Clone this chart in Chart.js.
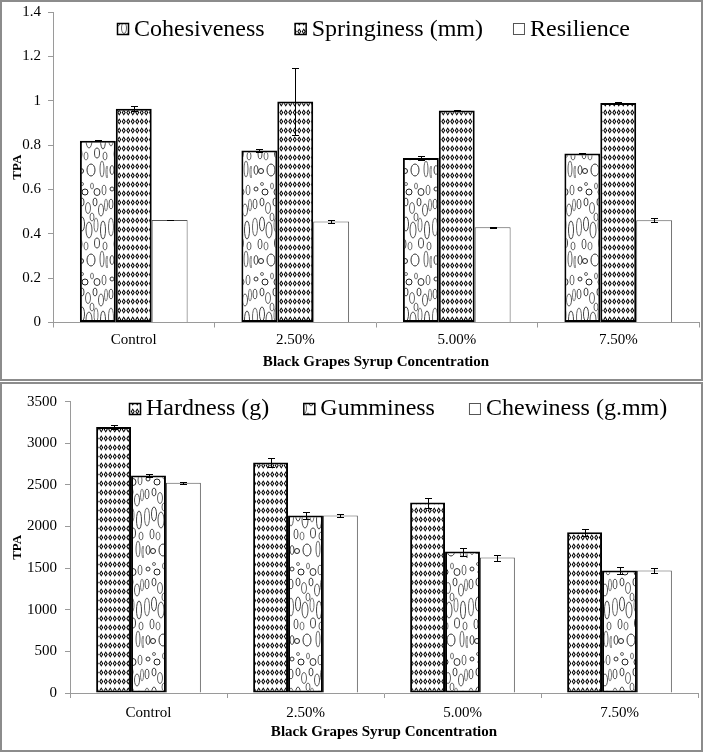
<!DOCTYPE html>
<html><head><meta charset="utf-8">
<script src="https://cdn.jsdelivr.net/npm/chart.js@4.4.1/dist/chart.umd.min.js"></script>
<style>
html,body{margin:0;padding:0;background:#fff;}
#wrap{position:relative;width:708px;height:756px;overflow:hidden;background:#fff;}
canvas{position:absolute;left:0;}
#c1{top:0;} #c2{top:380px;}
.panel{position:absolute;left:0;box-sizing:border-box;border:2px solid #8c8c8c;pointer-events:none;}
#p1{top:0;width:703px;height:381px;}
#p2{top:382px;width:703px;height:370px;}
</style></head>
<body><div id="wrap">
<canvas id="c1" width="708" height="380"></canvas>
<canvas id="c2" width="708" height="376"></canvas>
<div class="panel" id="p1"></div><div class="panel" id="p2"></div>
</div>
<script>
// ---------- DATA ----------
const categories = ['Control', '2.50%', '5.00%', '7.50%'];

const cohesiveness    = [0.820, 0.775, 0.742, 0.762];
const cohesivenessErr = [0.002, 0.007, 0.009, 0.004];
const springiness     = [0.964, 0.997, 0.956, 0.990];
const springinessErr  = [0.010, 0.152, 0.003, 0.005];
const resilience      = [0.462, 0.455, 0.429, 0.461];
const resilienceErr   = [0.002, 0.006, 0.003, 0.008];

const hardness     = [3195, 2768, 2288, 1930];
const hardnessErr  = [26, 58, 60, 44];
const gumminess    = [2612, 2134, 1700, 1472];
const gumminessErr = [20, 42, 48, 40];
const chewiness    = [2525, 2132, 1627, 1471];
const chewinessErr = [8, 22, 36, 32];

const topTicks = [0, 0.2, 0.4, 0.6, 0.8, 1, 1.2, 1.4];
const topTickLabels = ['0', '0.2', '0.4', '0.6', '0.8', '1', '1.2', '1.4'];
const bottomTicks = [0, 500, 1000, 1500, 2000, 2500, 3000, 3500];
const bottomTickLabels = ['0', '500', '1000', '1500', '2000', '2500', '3000', '3500'];

const xTitle = 'Black Grapes Syrup Concentration';
const yTitle = 'TPA';

// ---------- STYLE HELPERS ----------
const serif = "'Liberation Serif','Times New Roman',serif";

function makeDiamondPattern() {
  const t = document.createElement('canvas');
  t.width = 9; t.height = 9;
  const c = t.getContext('2d');
  c.fillStyle = '#fff'; c.fillRect(0, 0, 9, 9);
  [2.25, 6.75].forEach(cx => {
    const cy = 4.5;
    c.fillStyle = '#000';
    c.beginPath();
    c.moveTo(cx, cy - 3.2); c.lineTo(cx + 2.0, cy); c.lineTo(cx, cy + 3.2); c.lineTo(cx - 2.0, cy); c.closePath();
    c.fill();
    c.fillStyle = '#fff';
    c.beginPath();
    c.moveTo(cx, cy - 1.6); c.lineTo(cx + 0.8, cy); c.lineTo(cx, cy + 1.6); c.lineTo(cx - 0.8, cy); c.closePath();
    c.fill();
  });
  return c.createPattern(t, 'repeat');
}

function makeBubblePattern() {
  const t = document.createElement('canvas');
  t.width = 36; t.height = 90;
  const c = t.getContext('2d');
  c.fillStyle = '#fff'; c.fillRect(0, 0, 36, 90);
  const shapes = [
    [4, 9, 2, 2, '#333'], [10, 4, 1.5, 1.5, '#666'], [13, 12, 3, 3, '#222'],
    [20, 6, 1.5, 3, '#777'], [25, 12, 3, 3.5, '#333'], [32, 10, 2, 5, '#666'],
    [3, 24, 2, 5, '#555'], [10, 22, 2, 4, '#444'], [16, 28, 2.5, 5.5, '#666'],
    [23, 22, 2, 4, '#444'], [29, 30, 2.5, 6, '#555'], [34, 25, 1.5, 6, '#777'],
    [3, 47, 2.5, 9, '#666'], [10, 44, 2.5, 7, '#444'], [17, 50, 3, 8, '#555'],
    [24, 45, 2, 7, '#777'], [31, 50, 2.5, 9, '#444'], [20, 37, 2, 4, '#666'],
    [8, 64, 2, 5, '#555'], [14, 66, 2, 4, '#777'], [25, 63, 2.5, 5, '#444'], [33, 66, 2, 4, '#666'],
    [4, 80, 2, 4.5, '#444'], [9, 81, 2.5, 2.5, '#222'], [19, 80, 4, 6, '#333'],
    [30, 79, 2, 8, '#666'], [35, 82, 1, 6, '#777']
  ];
  c.lineWidth = 1;
  shapes.forEach(([x, y, rx, ry, col]) => {
    c.strokeStyle = col;
    c.beginPath(); c.ellipse(x, y, rx, ry, 0, 0, Math.PI * 2); c.stroke();
  });
  return c.createPattern(t, 'repeat');
}

const diamonds = makeDiamondPattern();
const bubbles = makeBubblePattern();

// ---------- PLUGINS ----------
const errorBarPlugin = {
  id: 'errorBars',
  afterDatasetsDraw(chart) {
    const ctx = chart.ctx, ys = chart.scales.y;
    chart.data.datasets.forEach((ds, i) => {
      if (!ds.errors) return;
      const meta = chart.getDatasetMeta(i);
      meta.data.forEach((bar, j) => {
        const v = ds.data[j], e = ds.errors[j];
        const yT = Math.round(ys.getPixelForValue(v + e)) + 0.5;
        const yB = Math.round(ys.getPixelForValue(v - e)) + 0.5;
        const x = Math.round(bar.x) + 0.5;
        ctx.save();
        ctx.strokeStyle = '#000'; ctx.lineWidth = 1;
        ctx.beginPath();
        ctx.moveTo(x, yT); ctx.lineTo(x, yB);
        ctx.moveTo(x - 3.5, yT); ctx.lineTo(x + 3.5, yT);
        ctx.moveTo(x - 3.5, yB); ctx.lineTo(x + 3.5, yB);
        ctx.stroke();
        ctx.restore();
      });
    });
  }
};

const legendPlugin = {
  id: 'customLegend',
  afterDraw(chart, args, o) {
    const ctx = chart.ctx;
    ctx.save();
    ctx.font = o.font;
    ctx.textBaseline = 'alphabetic';
    const items = chart.data.datasets.map(d => ({
      label: d.label, fill: d.backgroundColor, stroke: d.borderColor, lw: d.borderWidth,
      w: ctx.measureText(d.label).width
    }));
    const total = items.reduce((a, it) => a + o.box + o.gap + it.w, 0) + o.itemGap * (items.length - 1);
    let x = Math.round(o.cx - total / 2);
    items.forEach(it => {
      const bx = x, by = Math.round(o.boxCy - o.box / 2);
      ctx.fillStyle = it.fill;
      ctx.fillRect(bx, by, o.box, o.box);
      ctx.strokeStyle = it.stroke; ctx.lineWidth = it.lw > 1 ? 1.5 : 1;
      ctx.strokeRect(bx + 0.5, by + 0.5, o.box - 1, o.box - 1);
      ctx.fillStyle = '#000';
      ctx.fillText(it.label, bx + o.box + o.gap, o.baseline);
      x += o.box + o.gap + it.w + o.itemGap;
    });
    ctx.restore();
  }
};

// ---------- CHART BUILDER ----------
function buildChart(id, opts) {
  const canvas = document.getElementById(id);
  return new Chart(canvas, {
    type: 'bar',
    data: { labels: categories, datasets: opts.datasets },
    options: {
      responsive: false,
      maintainAspectRatio: false,
      animation: false,
      devicePixelRatio: 1,
      layout: { padding: { left: 0, right: opts.padRight, top: opts.padTop, bottom: 0 } },
      datasets: { bar: { categoryPercentage: 0.667, barPercentage: 1.0 } },
      plugins: {
        legend: { display: false },
        tooltip: { enabled: false },
        customLegend: opts.legend
      },
      scales: {
        x: {
          afterFit: s => { s.height = opts.xHeight; },
          ticks: { font: { family: serif, size: 15 }, color: '#000', padding: opts.xTickPad },
          grid: { drawOnChartArea: false, drawTicks: true, tickLength: 5, color: '#9a9a9a', offset: true },
          border: { display: true, color: '#9a9a9a', width: 1 },
          title: { display: true, text: xTitle, color: '#000',
                   font: { family: serif, size: 15, weight: 'bold' }, padding: { top: 0, bottom: opts.xTitlePad } }
        },
        y: {
          min: opts.yTicks[0], max: opts.yTicks[opts.yTicks.length - 1],
          afterBuildTicks: s => { s.ticks = opts.yTicks.map(v => ({ value: v })); },
          afterFit: s => { s.width = opts.yWidth; s.paddingTop = 0; s.paddingBottom = 0; },
          ticks: { callback: (v, i) => opts.yLabels[i], font: { family: serif, size: 15 }, color: '#000', padding: opts.yTickPad },
          grid: { drawOnChartArea: false, drawTicks: true, tickLength: 5, color: '#9a9a9a' },
          border: { display: true, color: '#9a9a9a', width: 1 },
          title: { display: true, text: yTitle, color: '#000',
                   font: { family: serif, size: 13, weight: 'bold' }, padding: { top: 10, bottom: 0 } }
        }
      }
    },
    plugins: [errorBarPlugin, legendPlugin]
  });
}

buildChart('c1', {
  datasets: [
    { label: 'Cohesiveness', data: cohesiveness, errors: cohesivenessErr, backgroundColor: bubbles,
      borderColor: '#000', borderWidth: 2, borderSkipped: false },
    { label: 'Springiness (mm)', data: springiness, errors: springinessErr, backgroundColor: diamonds,
      borderColor: '#000', borderWidth: 2, borderSkipped: false },
    { label: 'Resilience', data: resilience, errors: resilienceErr, backgroundColor: '#fff',
      borderColor: '#555', borderWidth: 1 }
  ],
  padRight: 9, padTop: 12, xHeight: 57.5, yWidth: 53, xTickPad: 4, xTitlePad: 9, yTickPad: 7,
  yTicks: topTicks, yLabels: topTickLabels,
  legend: { cx: 373, boxCy: 28.5, baseline: 36, box: 12, gap: 5, itemGap: 30, font: '24px ' + serif }
});

buildChart('c2', {
  datasets: [
    { label: 'Hardness (g)', data: hardness, errors: hardnessErr, backgroundColor: diamonds,
      borderColor: '#000', borderWidth: 2, borderSkipped: false },
    { label: 'Gumminess', data: gumminess, errors: gumminessErr, backgroundColor: bubbles,
      borderColor: '#000', borderWidth: 2, borderSkipped: false },
    { label: 'Chewiness (g.mm)', data: chewiness, errors: chewinessErr, backgroundColor: '#fff',
      borderColor: '#555', borderWidth: 1 }
  ],
  padRight: 10, padTop: 21.7, xHeight: 63, yWidth: 70, xTickPad: 6, xTitlePad: 15, yTickPad: 8,
  yTicks: bottomTicks, yLabels: bottomTickLabels,
  legend: { cx: 398, boxCy: 28.5, baseline: 35, box: 12, gap: 5, itemGap: 34, font: '24px ' + serif }
});
</script>
</body></html>
